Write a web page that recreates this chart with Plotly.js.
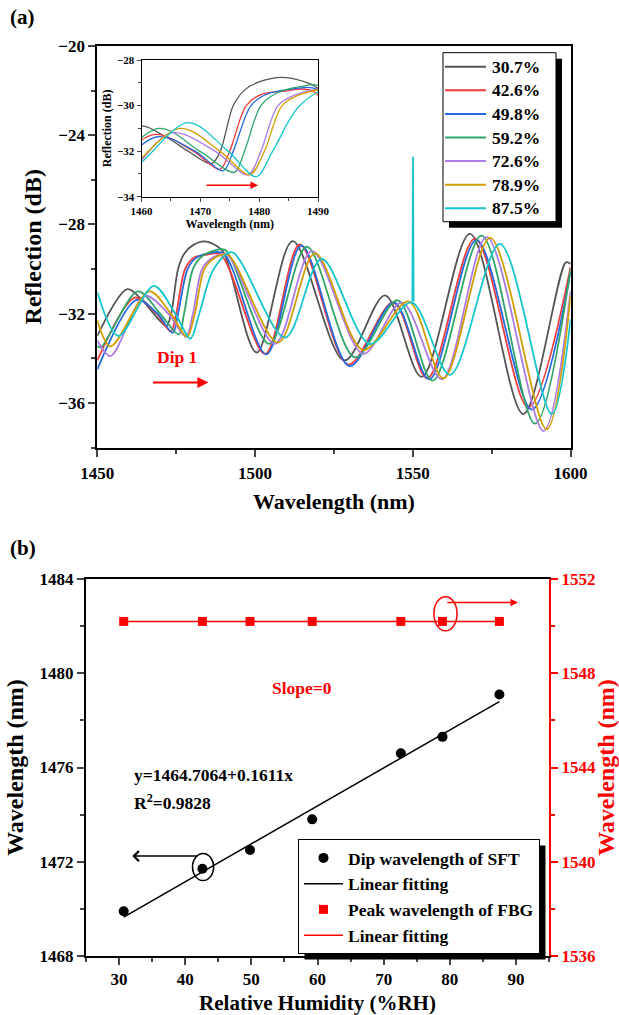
<!DOCTYPE html>
<html><head><meta charset="utf-8">
<script src="https://cdn.plot.ly/plotly-3.0.1.min.js"></script>
<style>html,body{margin:0;padding:0;background:#fff}#chart{width:619px;height:1015px}</style>
</head><body><div id="chart"></div>
<script>
// ---------- Panel (a): reflection spectra ----------
const humidityLabels = ['30.7%', '42.6%', '49.8%', '59.2%', '72.6%', '78.9%', '87.5%'];
const seriesColors = ['#555555', '#f23b3b', '#2469e0', '#2fa56a', '#ad7be6', '#d39e00', '#14c6cc'];

const wl_307 = [1450, 1459.5, 1464.3, 1468.2, 1471.9, 1473.4, 1475.6, 1477.6, 1480.1, 1483.8, 1487, 1490, 1500.5, 1511.9, 1528.3, 1541.2, 1552.8, 1568.1, 1585, 1598.5, 1600];
const db_307 = [-33.0, -30.9, -31.4, -32.05, -32.55, -32.0, -30.0, -29.3, -28.95, -28.76, -28.9, -29.25, -33.74, -28.75, -34.1, -31.18, -34.83, -28.42, -36.5, -29.7, -29.77];

const wl_426 = [1450, 1462, 1468.8, 1473.3, 1475.0, 1477.8, 1480.5, 1484, 1489, 1503.2, 1514.2, 1529.6, 1543.8, 1554.6, 1569.7, 1586.6, 1600];
const db_426 = [-34.1, -31.28, -32.0, -32.8, -32.0, -30.0, -29.5, -29.38, -29.35, -33.8, -28.9, -34.28, -31.5, -34.9, -28.64, -36.2, -29.9];

const wl_498 = [1450, 1462.5, 1469.1, 1473.9, 1475.6, 1478.6, 1481.3, 1485, 1490, 1503.6, 1514.7, 1530, 1544, 1555.2, 1570.2, 1587.7, 1600];
const db_498 = [-34.5, -31.38, -32.0, -32.86, -32.0, -30.0, -29.5, -29.3, -29.3, -33.82, -28.95, -34.35, -31.5, -34.94, -28.7, -36.3, -30.14];

const wl_592 = [1450, 1451.2, 1462.9, 1469.9, 1475.8, 1477.5, 1480.3, 1483, 1487, 1490.5, 1504.5, 1516.4, 1531.7, 1545.2, 1556.3, 1571.8, 1588.7, 1600];
const db_592 = [-33.45, -33.5, -31.0, -32.0, -32.93, -32.0, -30.0, -29.45, -29.17, -29.14, -33.35, -29.0, -33.96, -31.4, -35.0, -28.5, -36.93, -30.0];

const wl_726 = [1450, 1454.2, 1465.1, 1472.5, 1478.1, 1480.3, 1483.2, 1486.5, 1491, 1506.3, 1518, 1534.3, 1546.5, 1559.2, 1573.4, 1591.4, 1600];
const db_726 = [-33.2, -33.9, -31.2, -32.0, -33.04, -32.0, -30.0, -29.5, -29.35, -33.35, -29.2, -33.8, -31.5, -34.94, -28.57, -37.26, -30.97];

const wl_789 = [1450, 1454.2, 1466.5, 1473.3, 1478.4, 1480.9, 1483.9, 1487.2, 1491.3, 1507.3, 1519, 1534.3, 1548.6, 1559.7, 1574.5, 1592.4, 1600];
const db_789 = [-32.3, -33.47, -31.0, -32.0, -33.04, -32.0, -30.0, -29.5, -29.35, -33.3, -29.3, -33.63, -31.45, -34.9, -28.6, -37.18, -31.19];

const wl_875 = [1450, 1456.7, 1467.9, 1474.7, 1479.5, 1482.3, 1486.9, 1492.6, 1509.5, 1521.1, 1536.4, 1549.6, 1561.8, 1577.6, 1594, 1600];
const db_875 = [-31.04, -33.0, -30.75, -32.0, -33.12, -32.0, -30.0, -29.24, -33.07, -29.55, -33.36, -31.5, -34.74, -28.87, -36.5, -32.24];

// FBG reflection peak seen on the spectra
const fbgSpikeWl = [1549.85, 1550.05, 1550.25];
const fbgSpikeDb = [-31.45, -24.97, -31.45];

// ---------- Panel (b): wavelength vs relative humidity ----------
const rh = [30.7, 42.6, 49.8, 59.2, 72.6, 78.9, 87.5];
const dipWl = [1469.9, 1471.7, 1472.5, 1473.8, 1476.6, 1477.3, 1479.1];
const dipFitX = [30.7, 87.5];
const dipFitY = [1469.65, 1478.80];
const fbgPeakWl = [1550.2, 1550.2, 1550.2, 1550.2, 1550.2, 1550.2, 1550.2];
const fbgFitX = [30.7, 87.5];
const fbgFitY = [1550.2, 1550.2];
const legendBNames = ['Dip wavelength of SFT', 'Linear fitting', 'Peak wavelength of FBG', 'Linear fitting'];

const FONT = 'Liberation Serif, Times New Roman, serif';
const spectraWl = [wl_307, wl_426, wl_498, wl_592, wl_726, wl_789, wl_875];
const spectraDb = [db_307, db_426, db_498, db_592, db_726, db_789, db_875];

const traces = [];
spectraWl.forEach((wl, i) => {
  traces.push({
    x: wl, y: spectraDb[i], type: 'scatter', mode: 'lines', name: humidityLabels[i], showlegend: false,
    line: {color: seriesColors[i], width: 1.8, shape: 'spline', smoothing: 0.9},
    xaxis: 'x', yaxis: 'y'
  });
});
traces.push({
  x: fbgSpikeWl, y: fbgSpikeDb, type: 'scatter', mode: 'lines', showlegend: false,
  line: {color: seriesColors[6], width: 1.8}, xaxis: 'x', yaxis: 'y', hoverinfo: 'skip'
});
spectraWl.forEach((wl, i) => {
  traces.push({
    x: wl, y: spectraDb[i], type: 'scatter', mode: 'lines', showlegend: false,
    line: {color: seriesColors[i], width: 1.3, shape: 'spline', smoothing: 0.9},
    xaxis: 'x2', yaxis: 'y2'
  });
});
// Panel b traces
traces.push({x: rh, y: dipWl, type: 'scatter', mode: 'markers', name: legendBNames[0],
  marker: {symbol: 'circle', size: 10, color: '#000'}, xaxis: 'x3', yaxis: 'y3', legend: 'legend2'});
traces.push({x: dipFitX, y: dipFitY, type: 'scatter', mode: 'lines', name: legendBNames[1],
  line: {color: '#000', width: 1.5}, xaxis: 'x3', yaxis: 'y3', legend: 'legend2'});
traces.push({x: rh, y: fbgPeakWl, type: 'scatter', mode: 'markers', name: legendBNames[2],
  marker: {symbol: 'square', size: 9, color: '#ff0000'}, xaxis: 'x3', yaxis: 'y4', legend: 'legend2'});
traces.push({x: fbgFitX, y: fbgFitY, type: 'scatter', mode: 'lines', name: legendBNames[3],
  line: {color: '#ff0000', width: 1.5}, xaxis: 'x3', yaxis: 'y4', legend: 'legend2'});

const bold = (size, color) => ({family: FONT, size: size, color: color || '#000', weight: 'bold'});
const px = v => v / 619, py = v => 1 - v / 1015;

// Legend of panel (a): box, shadow, line keys and labels
const legendA = {left: 443, right: 556, top: 52.7, bottom: 221.7, row0: 66.7, rowStep: 23.6, keyX0: 445, keyX1: 486, textX: 490};
const shapes = [
  {type: 'rect', xref: 'paper', yref: 'paper', x0: px(legendA.left + 6), x1: px(legendA.right + 6),
    y0: py(legendA.bottom + 6), y1: py(legendA.top + 6), fillcolor: '#000', line: {width: 0}, layer: 'above'},
  {type: 'rect', xref: 'paper', yref: 'paper', x0: px(legendA.left), x1: px(legendA.right),
    y0: py(legendA.bottom), y1: py(legendA.top), fillcolor: '#fff', line: {color: '#000', width: 1}, layer: 'above'}
];
const annotations = [];
humidityLabels.forEach((lab, i) => {
  const yc = legendA.row0 + i * legendA.rowStep;
  shapes.push({type: 'line', xref: 'paper', yref: 'paper', x0: px(legendA.keyX0), x1: px(legendA.keyX1),
    y0: py(yc), y1: py(yc), line: {color: seriesColors[i], width: 2}, layer: 'above'});
  annotations.push({text: lab, xref: 'paper', yref: 'paper', x: px(legendA.textX), y: py(yc),
    xanchor: 'left', yanchor: 'middle', showarrow: false, font: bold(17.5)});
});
shapes.push(
  {type: 'circle', xref: 'x3', yref: 'y3', x0: 41.1, x1: 44.3, y0: 1471.2, y1: 1472.35,
    line: {color: '#000', width: 1.5}},
  {type: 'circle', xref: 'x3', yref: 'y4', x0: 77.6, x1: 81.1, y0: 1549.8, y1: 1551.25,
    line: {color: '#ff0000', width: 1.5}}
);
annotations.push(
  {text: '(a)', xref: 'paper', yref: 'paper', x: px(8), y: py(17), xanchor: 'left', yanchor: 'middle',
    showarrow: false, font: bold(21)},
  {text: '(b)', xref: 'paper', yref: 'paper', x: px(8), y: py(548), xanchor: 'left', yanchor: 'middle',
    showarrow: false, font: bold(21)},
  {text: 'Dip 1', xref: 'x', yref: 'y', x: 1475.2, y: -33.96, showarrow: false, font: bold(17.5, '#ff0000')},
  {text: '', xref: 'x', yref: 'y', x: 1485.2, y: -35.09, ax: 1467.2, ay: -35.09, axref: 'x', ayref: 'y',
    showarrow: true, arrowhead: 2, arrowsize: 1.1, arrowwidth: 2, arrowcolor: '#ff0000'},
  {text: '', xref: 'x2', yref: 'y2', x: 1479.8, y: -33.5, ax: 1470.8, ay: -33.5, axref: 'x2', ayref: 'y2',
    showarrow: true, arrowhead: 2, arrowsize: 1, arrowwidth: 1.5, arrowcolor: '#ff0000'},
  {text: 'Slope=0', xref: 'x3', yref: 'y3', x: 57.6, y: 1479.37, showarrow: false, font: bold(17.5, '#ff0000')},
  {text: 'y=1464.7064+0.1611x', xref: 'x3', yref: 'y3', x: 32.0, y: 1475.7, xanchor: 'left',
    showarrow: false, font: bold(17.5)},
  {text: 'R<sup>2</sup>=0.9828', xref: 'x3', yref: 'y3', x: 32.0, y: 1474.55, xanchor: 'left',
    showarrow: false, font: bold(17.5)},
  {text: '', xref: 'x3', yref: 'y3', x: 32.0, y: 1472.24, ax: 42.1, ay: 1472.24, axref: 'x3', ayref: 'y3',
    showarrow: true, arrowhead: 4, arrowsize: 1.3, arrowwidth: 1.5, arrowcolor: '#000'},
  {text: '', xref: 'x3', yref: 'y4', x: 90.3, y: 1551.0, ax: 79.4, ay: 1551.0, axref: 'x3', ayref: 'y4',
    showarrow: true, arrowhead: 2, arrowsize: 1, arrowwidth: 1.5, arrowcolor: '#ff0000'}
);

const layout = {
  width: 619, height: 1015,
  margin: {l: 0, r: 0, t: 0, b: 0},
  paper_bgcolor: '#fff', plot_bgcolor: 'rgba(0,0,0,0)',
  font: {family: FONT, color: '#000'},
  showlegend: true,
  xaxis: {domain: [px(97.3), px(570.6)], range: [1450, 1600], anchor: 'y',
    tickvals: [1450, 1500, 1550, 1600], ticks: 'outside', ticklen: 7, tickwidth: 2,
    minor: {tickvals: [1475, 1525, 1575], ticks: 'outside', ticklen: 4, tickwidth: 2},
    showline: true, linewidth: 2, linecolor: '#000', mirror: true, showgrid: false, zeroline: false,
    tickfont: bold(17), ticklabelstandoff: 2, title: {text: 'Wavelength (nm)', font: bold(22), standoff: 12}},
  yaxis: {domain: [py(447.5), py(46)], range: [-38, -20], anchor: 'x',
    tickvals: [-36, -32, -28, -24, -20], ticks: 'outside', ticklen: 7, tickwidth: 2,
    minor: {tickvals: [-38, -34, -30, -26, -22], ticks: 'outside', ticklen: 4, tickwidth: 2},
    showline: true, linewidth: 2, linecolor: '#000', mirror: true, showgrid: false, zeroline: false,
    tickfont: bold(17), title: {text: 'Reflection (dB)', font: bold(24), standoff: 10}},
  xaxis2: {domain: [px(141.5), px(318)], range: [1460, 1490], anchor: 'y2',
    tickvals: [1460, 1470, 1480, 1490], ticks: 'outside', ticklen: 4, tickwidth: 1,
    minor: {tickvals: [1465, 1475, 1485], ticks: 'outside', ticklen: 3, tickwidth: 1},
    showline: true, linewidth: 1, linecolor: '#000', mirror: true, showgrid: false, zeroline: false,
    tickfont: bold(11), title: {text: 'Wavelength (nm)', font: bold(12), standoff: 3}},
  yaxis2: {domain: [py(196.7), py(60)], range: [-34, -28], anchor: 'x2',
    tickvals: [-34, -32, -30, -28], ticks: 'outside', ticklen: 4, tickwidth: 1,
    minor: {tickvals: [-33, -31, -29], ticks: 'outside', ticklen: 3, tickwidth: 1},
    showline: true, linewidth: 1, linecolor: '#000', mirror: true, showgrid: false, zeroline: false,
    tickfont: bold(11), title: {text: 'Reflection (dB)', font: bold(12), standoff: 2}},
  xaxis3: {domain: [px(86), px(549)], range: [25, 95], anchor: 'y3',
    tickvals: [30, 40, 50, 60, 70, 80, 90], ticks: 'outside', ticklen: 7, tickwidth: 2,
    minor: {tickvals: [25, 35, 45, 55, 65, 75, 85, 95], ticks: 'outside', ticklen: 4, tickwidth: 2},
    showline: true, linewidth: 2, linecolor: '#000', mirror: true, showgrid: false, zeroline: false,
    tickfont: bold(17), title: {text: 'Relative Humidity (%RH)', font: bold(21), standoff: 8}},
  yaxis3: {domain: [py(956), py(579)], range: [1468, 1484], anchor: 'x3',
    tickvals: [1468, 1472, 1476, 1480, 1484], ticks: 'outside', ticklen: 7, tickwidth: 2,
    minor: {tickvals: [1470, 1474, 1478, 1482], ticks: 'outside', ticklen: 4, tickwidth: 2},
    showline: true, linewidth: 2, linecolor: '#000', showgrid: false, zeroline: false,
    tickfont: bold(17), title: {text: 'Wavelength (nm)', font: bold(24), standoff: 9}},
  yaxis4: {overlaying: 'y3', side: 'right', range: [1536, 1552], anchor: 'x3',
    tickvals: [1536, 1540, 1544, 1548, 1552], ticks: 'outside', ticklen: 7, tickwidth: 2, tickcolor: '#ff0000',
    minor: {tickvals: [1538, 1542, 1546, 1550], ticks: 'outside', ticklen: 4, tickwidth: 2, tickcolor: '#ff0000'},
    showline: true, linewidth: 2, linecolor: '#ff0000', showgrid: false, zeroline: false,
    tickfont: bold(17, '#ff0000'), title: {text: 'Wavelength (nm)', font: bold(24, '#ff0000'), standoff: 6}},
  legend2: {x: px(298), y: py(839), xanchor: 'left', yanchor: 'top', bgcolor: '#fff',
    bordercolor: '#000', borderwidth: 1, font: bold(17.5), tracegroupgap: 0, itemwidth: 39},
  shapes: shapes,
  annotations: annotations
};

const gd = document.getElementById('chart');
Plotly.newPlot(gd, traces, layout, {displayModeBar: false, staticPlot: true}).then(() => {
  // shadow behind the legend of panel (b), sized from the drawn legend box
  let bg = gd.querySelector('g.legend2 rect.bg');
  if (!bg) {
    const all = gd.querySelectorAll('.infolayer rect.bg');
    bg = all[all.length - 1];
  }
  if (!bg) return;
  const r = bg.getBoundingClientRect(), c = gd.getBoundingClientRect();
  const L = r.left - c.left, T = r.top - c.top, R = r.right - c.left, B = r.bottom - c.top;
  const newShapes = shapes.slice();
  newShapes.unshift({type: 'rect', xref: 'paper', yref: 'paper', x0: px(L + 6), x1: px(R + 6),
    y0: py(B + 6), y1: py(T + 6), fillcolor: '#000', line: {width: 0}, layer: 'above'});
  return Plotly.relayout(gd, {shapes: newShapes});
});
</script></body></html>
